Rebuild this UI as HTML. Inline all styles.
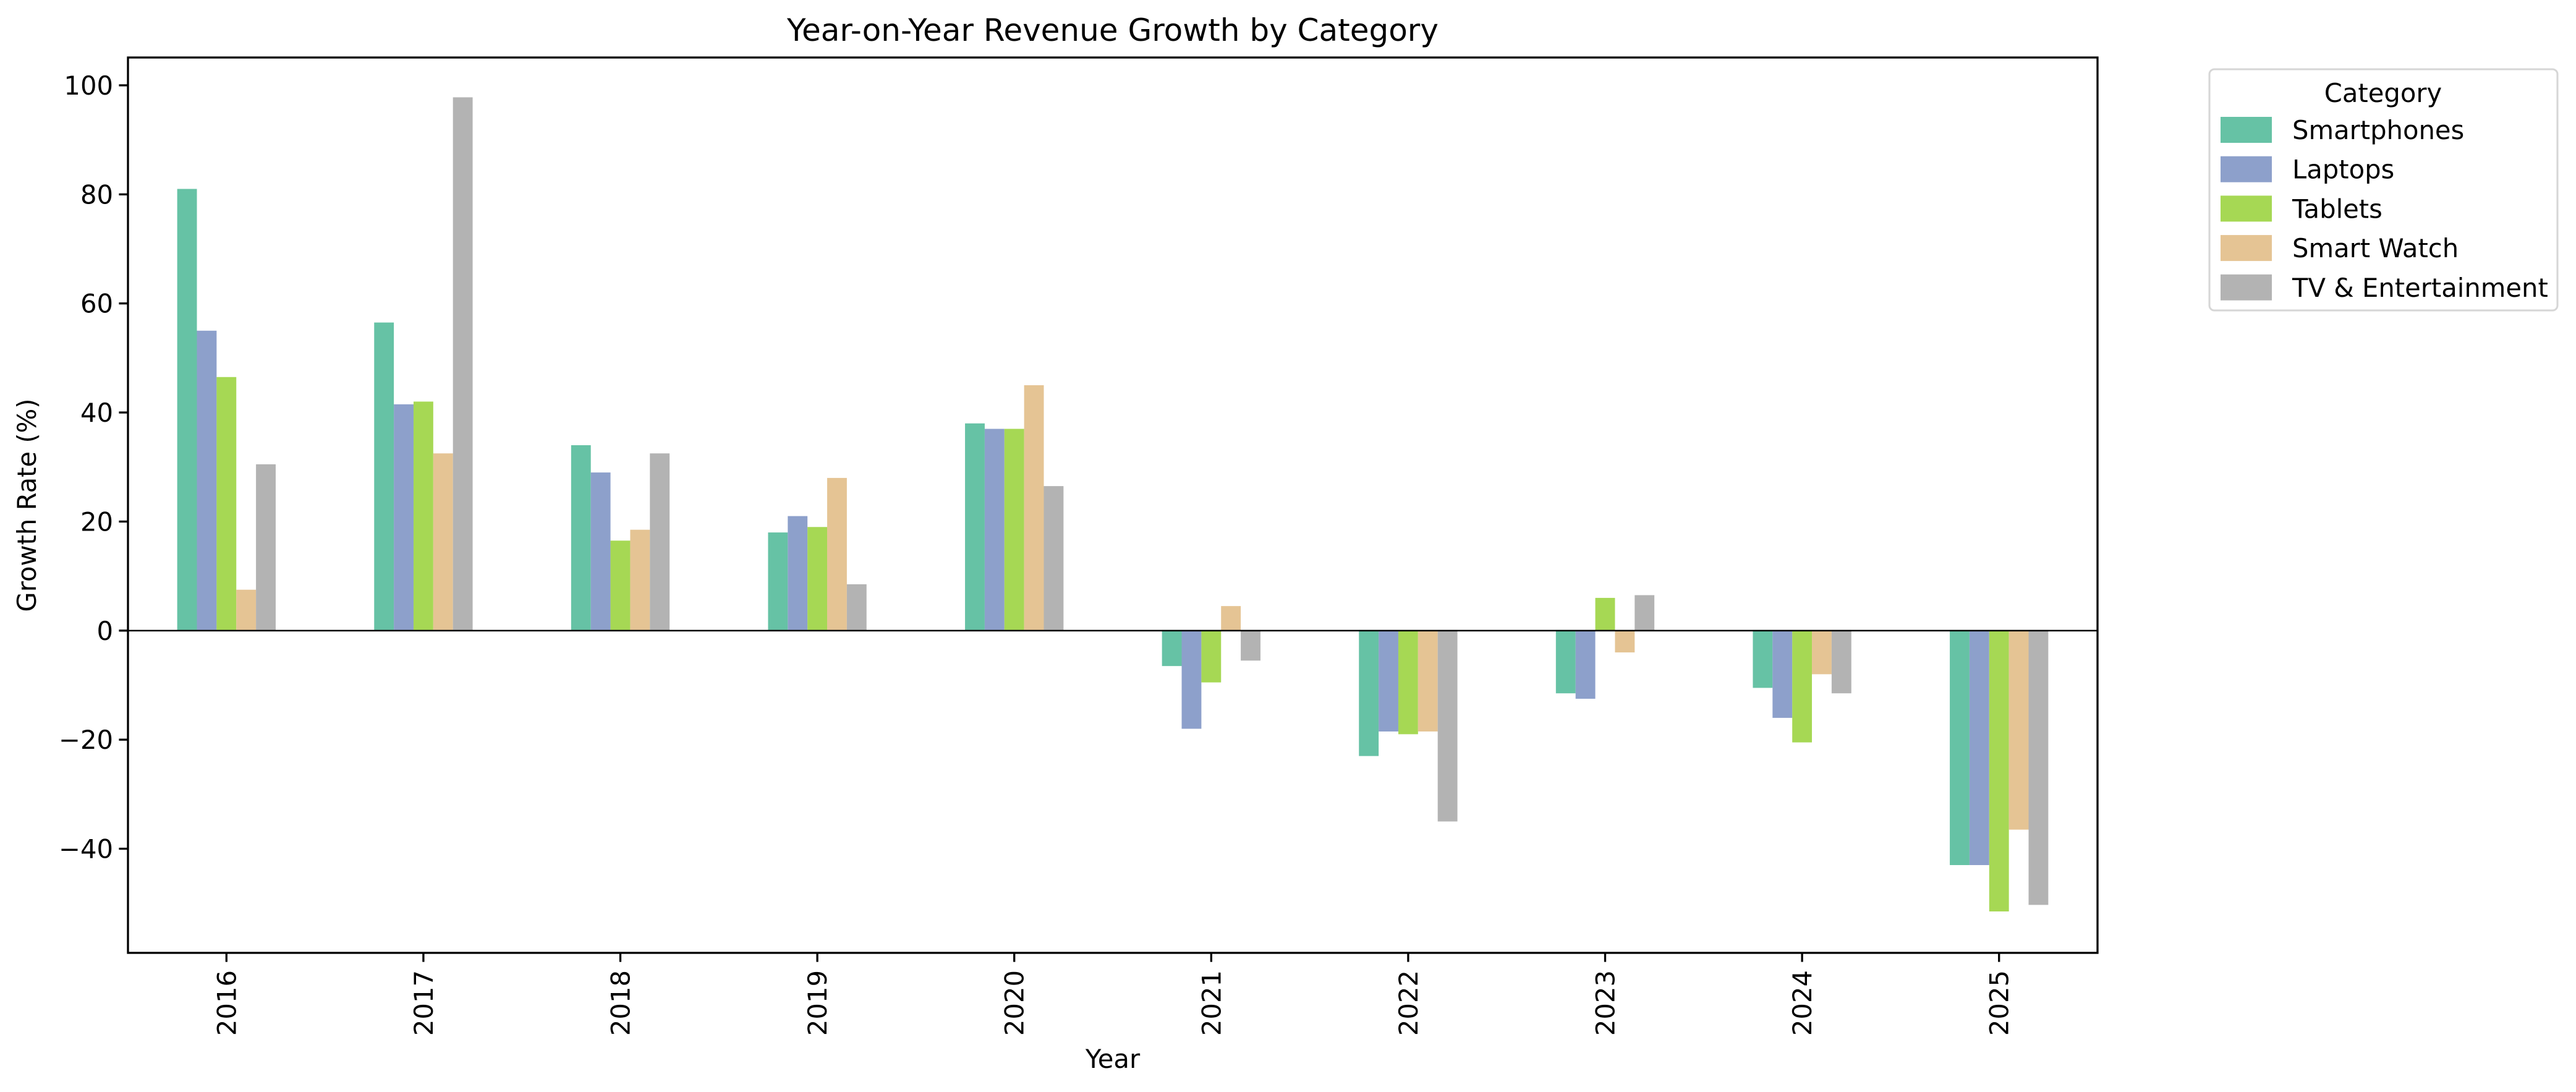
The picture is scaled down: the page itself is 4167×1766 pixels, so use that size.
<!DOCTYPE html>
<html><head><meta charset="utf-8"><style>
html,body{margin:0;padding:0;background:#fff}
svg{display:block;font-family:"DejaVu Sans","Liberation Sans",sans-serif}
</style></head><body>
<svg id="chart" width="4167" height="1766" viewBox="0 0 4167 1766" xmlns="http://www.w3.org/2000/svg">
<rect width="4167" height="1766" fill="#fff"/>
<text x="1800" y="66" font-size="50" text-anchor="middle">Year-on-Year Revenue Growth by Category</text>
<g id="bars"></g>
<g id="axes"></g>
<text x="1800" y="1727" font-size="41.7" text-anchor="middle">Year</text>
<text transform="translate(58,817) rotate(-90)" font-size="41.7" text-anchor="middle">Growth Rate (%)</text>
<g>
<rect x="3574" y="112" width="563" height="390" rx="8" fill="#fff" stroke="#d6d6d6" stroke-width="3"/>
<text x="3855" y="165" font-size="41.7" text-anchor="middle">Category</text>
<g id="legend-entries"></g>
</g>
</svg>
<script>
const categories = ["2016","2017","2018","2019","2020","2021","2022","2023","2024","2025"];
const seriesNames = ["Smartphones","Laptops","Tablets","Smart Watch","TV & Entertainment"];
const smartphones = [81, 56.5, 34, 18, 38, -6.5, -23, -11.5, -10.5, -43];
const laptops = [55, 41.5, 29, 21, 37, -18, -18.5, -12.5, -16, -43];
const tablets = [46.5, 42, 16.5, 19, 37, -9.5, -19, 6, -20.5, -51.5];
const smartWatch = [7.5, 32.5, 18.5, 28, 45, 4.5, -18.5, -4, -8, -36.5];
const tvEntertainment = [30.5, 97.8, 32.5, 8.5, 26.5, -5.5, -35, 6.5, -11.5, -50.3];
const yTicks = [-40, -20, 0, 20, 40, 60, 80, 100];

const series = [smartphones, laptops, tablets, smartWatch, tvEntertainment];
const colors = ["#66c2a5","#8da0cb","#a6d854","#e5c494","#b3b3b3"];
const NS = "http://www.w3.org/2000/svg";
const L = 207, R = 3393, T = 93, B = 1541;
const yMin = -59.1, yMax = 105.1;
function yScale(v){ return B - (v - yMin) / (yMax - yMin) * (B - T); }
function xScale(i){ return L + (i + 0.5) / categories.length * (R - L); }
const catW = (R - L) / categories.length;
const barW = catW * 0.5 / series.length;
function mk(tag, attrs){ const e = document.createElementNS(NS, tag); for (const k in attrs) e.setAttribute(k, attrs[k]); return e; }

const bars = document.getElementById("bars");
series.forEach((vals, s) => {
  vals.forEach((v, i) => {
    const x0 = xScale(i) - catW * 0.25 + s * barW;
    const y0 = yScale(Math.max(v, 0)), y1 = yScale(Math.min(v, 0));
    const r = mk("rect", {x: x0, y: y0, width: barW, height: y1 - y0, fill: colors[s]});
    
    
    bars.appendChild(r);
  });
});

const axes = document.getElementById("axes");
const zl = mk("line", {x1: L, x2: R, y1: yScale(0), y2: yScale(0), stroke: "#000", "stroke-width": 2.5});


axes.appendChild(zl);
const frame = mk("rect", {x: L, y: T, width: R - L, height: B - T, fill: "none", stroke: "#000", "stroke-width": 3.3});


axes.appendChild(frame);
yTicks.forEach(t => {
  const y = yScale(t);
  const tk = mk("line", {x1: L - 14.6, x2: L, y1: y, y2: y, stroke: "#000", "stroke-width": 3.3});
  
  
  axes.appendChild(tk);
  const tx = mk("text", {x: L - 24, y: y + 15, "font-size": 41.7, "text-anchor": "end"});
  
  
  tx.textContent = t < 0 ? "\u2212" + Math.abs(t) : String(t);
  axes.appendChild(tx);
});
categories.forEach((c, i) => {
  const x = xScale(i);
  const tk = mk("line", {x1: x, x2: x, y1: B, y2: B + 14.6, stroke: "#000", "stroke-width": 3.3});
  
  
  axes.appendChild(tk);
  const tx = mk("text", {transform: `translate(${x + 15},${B + 28}) rotate(-90)`, "font-size": 41.7, "text-anchor": "end"});
  
  
  tx.textContent = c;
  axes.appendChild(tx);
});

const le = document.getElementById("legend-entries");
seriesNames.forEach((n, s) => {
  const cy = 210 + s * 63.7;
  const sw = mk("rect", {x: 3592, y: cy - 21, width: 83, height: 42, fill: colors[s]});
  
  
  le.appendChild(sw);
  const tx = mk("text", {x: 3708, y: cy + 15, "font-size": 41.7});
  
  
  tx.textContent = n;
  le.appendChild(tx);
});
</script>
</body></html>
